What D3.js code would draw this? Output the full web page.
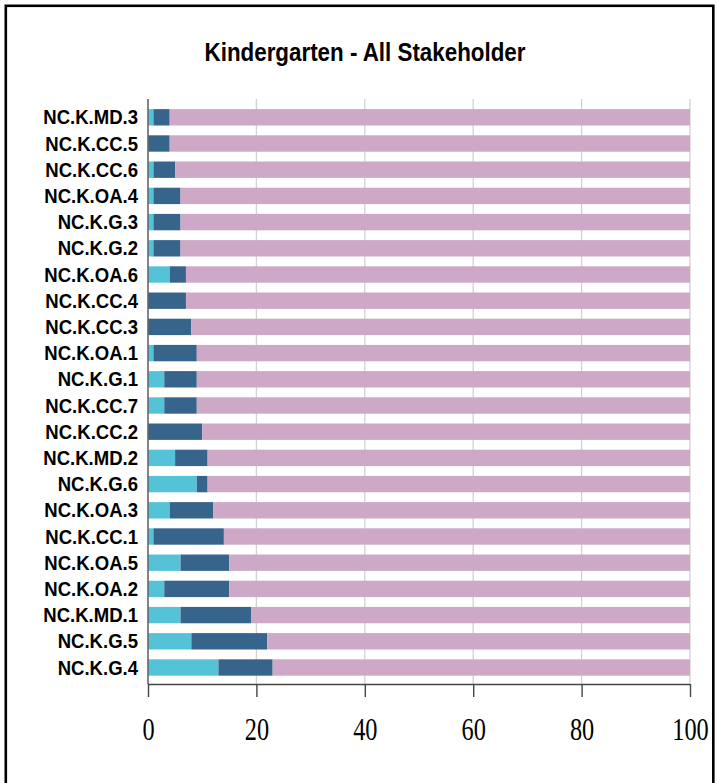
<!DOCTYPE html>
<html><head><meta charset="utf-8">
<script src="https://cdn.jsdelivr.net/npm/d3@7"></script>
<style>html,body{margin:0;padding:0;background:#fff;}svg{display:block;}</style>
</head><body>
<svg id="chart" width="717" height="783"></svg>
<script>
const categories = ["NC.K.MD.3","NC.K.CC.5","NC.K.CC.6","NC.K.OA.4","NC.K.G.3","NC.K.G.2","NC.K.OA.6","NC.K.CC.4","NC.K.CC.3","NC.K.OA.1","NC.K.G.1","NC.K.CC.7","NC.K.CC.2","NC.K.MD.2","NC.K.G.6","NC.K.OA.3","NC.K.CC.1","NC.K.OA.5","NC.K.OA.2","NC.K.MD.1","NC.K.G.5","NC.K.G.4"];
const seriesLight = [1,0,1,1,1,1,4,0,0,1,3,3,0,5,9,4,1,6,3,6,8,13];
const seriesDark  = [3,4,4,5,5,5,3,7,8,8,6,6,10,6,2,8,13,9,12,13,14,10];
const seriesPink  = categories.map((c,i)=>100 - seriesLight[i] - seriesDark[i]);
const xTicks = [0,20,40,60,80,100];
const title = "Kindergarten - All Stakeholder";
const colors = ["#55c3d7","#36648b","#cda8c7"];

const svg = d3.select("#chart");
// outer border
svg.append("rect").attr("x",5.8).attr("y",5.8).attr("width",707.5).attr("height",800)
  .attr("fill","none").attr("stroke","#000").attr("stroke-width",2.6);

const x = d3.scaleLinear().domain([0,100]).range([148,690]);
const y = d3.scaleBand().domain(categories).range([104.2,680.6]).paddingInner(0.375).paddingOuter(0.1875);

function compress(sel, f){
  sel.each(function(){
    const w = this.getComputedTextLength();
    d3.select(this).attr("textLength", w*f).attr("lengthAdjust","spacingAndGlyphs");
  });
}

// title
svg.append("text").attr("x",365).attr("y",60.5).attr("text-anchor","middle")
  .attr("font-family","Liberation Sans, Arial, sans-serif").attr("font-weight","bold")
  .attr("font-size",26).attr("fill","#000").text(title).call(compress,0.86);

// gridlines
svg.append("g").selectAll("line").data(xTicks.filter(d=>d>0)).join("line")
  .attr("x1",d=>x(d)).attr("x2",d=>x(d)).attr("y1",99).attr("y2",684)
  .attr("stroke","#d2d2d2").attr("stroke-width",1.3);

// stacked bars
const rows = categories.map((c,i)=>({cat:c, light:seriesLight[i], dark:seriesDark[i], pink:seriesPink[i]}));
const stack = d3.stack().keys(["light","dark","pink"])(rows);
svg.append("g").selectAll("g").data(stack).join("g").attr("fill",(d,i)=>colors[i])
  .selectAll("rect").data(d=>d).join("rect")
  .attr("x",d=>x(d[0])).attr("width",d=>x(d[1])-x(d[0]))
  .attr("y",d=>y(d.data.cat)).attr("height",y.bandwidth());

// y axis line
svg.append("line").attr("x1",148).attr("x2",148).attr("y1",99).attr("y2",684)
  .attr("stroke","#666").attr("stroke-width",1.6);

// category labels
svg.append("g").selectAll("text").data(categories).join("text")
  .attr("x",138).attr("y",d=>y(d)+y.bandwidth()/2).attr("dy","0.36em")
  .attr("text-anchor","end").attr("font-family","Liberation Sans, Arial, sans-serif")
  .attr("font-weight","bold").attr("font-size",19.5).attr("fill","#000").text(d=>d)
  .call(compress,0.95);

// x axis
const xAxis = d3.axisBottom(x).tickValues(xTicks).tickSize(13).tickPadding(10).tickFormat(d3.format("d"));
const gx = svg.append("g").attr("transform","translate(0,684)").call(xAxis);
gx.select(".domain").attr("stroke","#444").attr("stroke-width",1.4).attr("d","M148,0.5H690");
gx.selectAll(".tick line").attr("stroke","#444").attr("stroke-width",1.4);
gx.selectAll(".tick text").attr("font-family","Liberation Serif, Times New Roman, serif")
  .attr("font-size",32).attr("fill","#000").attr("y",56).attr("dy",0)
  .call(compress,0.76);
</script>
</body></html>
